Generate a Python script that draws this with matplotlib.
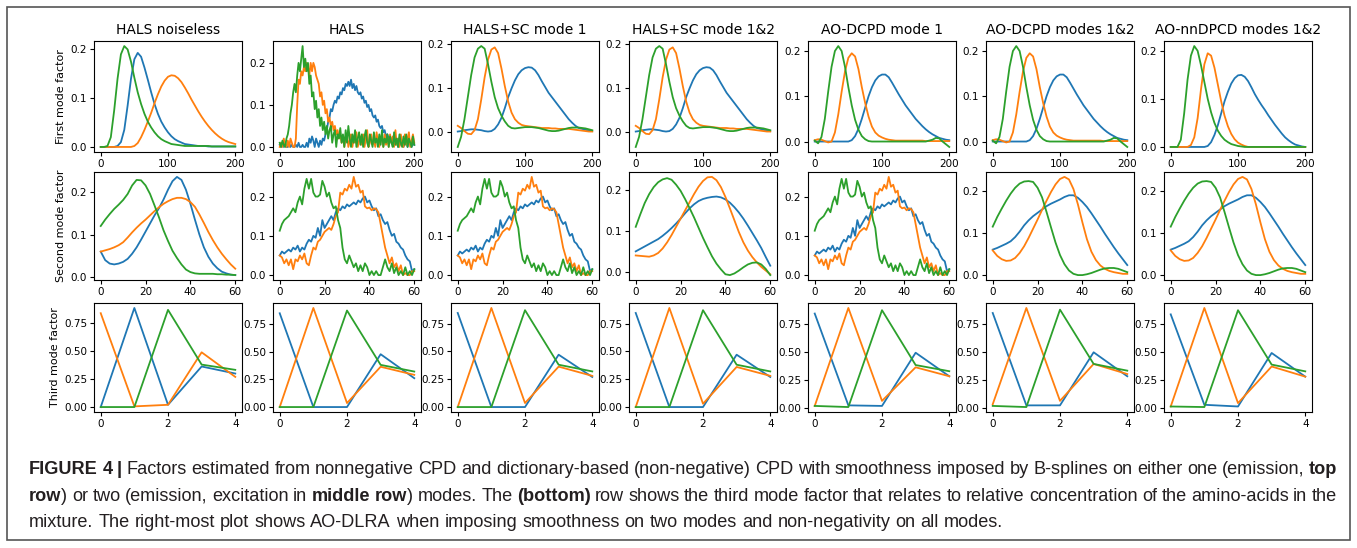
import numpy as np
import matplotlib
matplotlib.use("Agg")
import matplotlib.pyplot as plt
from matplotlib.patches import Rectangle

W, H = 1357, 548

titles = ["HALS noiseless", "HALS", "HALS+SC mode 1", "HALS+SC mode 1&2",
          "AO-DCPD mode 1", "AO-DCPD modes 1&2", "AO-nnDPCD modes 1&2"]
row_labels = ["First mode factor", "Second mode factor", "Third mode factor"]

# x grids of each row
x_emis = np.arange(0, 201, 5)
x_emis_noisy = np.arange(0, 201, 2)
x_exc = np.arange(0, 61, 2)
x_exc_noisy = np.arange(0, 61, 1)
x_conc = [0, 1, 2, 3, 4]

# ---- first mode (emission) ----
r1_noiseless_blue = [0, 0, 0, 0, 0, 0.002, 0.01, 0.035, 0.085, 0.14,
                     0.18, 0.193, 0.185, 0.163, 0.138, 0.112, 0.088, 0.068, 0.052, 0.04,
                     0.03, 0.022, 0.016, 0.012, 0.009, 0.006, 0.005, 0.004, 0.003, 0.002,
                     0.002, 0.002, 0.001, 0.001, 0.001, 0.001, 0.001, 0.001, 0.001, 0.001,
                     0.001]
r1_noiseless_orange = [0, 0, 0, 0, 0, 0, 0, 0, 0, 0,
                       0.002, 0.008, 0.02, 0.035, 0.052, 0.07, 0.09, 0.108, 0.124, 0.136,
                       0.144, 0.147, 0.146, 0.141, 0.133, 0.122, 0.11, 0.097, 0.085, 0.073,
                       0.062, 0.052, 0.043, 0.035, 0.028, 0.022, 0.017, 0.013, 0.01, 0.008,
                       0.006]
r1_noiseless_green = [0, 0, 0.002, 0.02, 0.075, 0.14, 0.19, 0.207, 0.2, 0.175,
                      0.142, 0.112, 0.088, 0.068, 0.052, 0.04, 0.03, 0.022, 0.016, 0.012,
                      0.009, 0.006, 0.005, 0.004, 0.003, 0.002, 0.002, 0.002, 0.002, 0.002,
                      0.002, 0.002, 0.002, 0.001, 0.001, 0.001, 0.001, 0.001, 0.001, 0.001,
                      0.001]

r1_hals_blue = [0.005, 0.0, 0.01, 0.0, 0.005, 0.0, 0.0, 0.01, 0.0, 0.005, 0.0,
                0.0, 0.005, 0.0, 0.01, 0.0, 0.0, 0.005, 0.0, 0.0, 0.01,
                0.0, 0.02, 0.01, 0.025, 0.015, 0.0, 0.02, 0.01, 0.0, 0.015,
                0.005, 0.02, 0.015, 0.03, 0.04, 0.06, 0.07, 0.09, 0.085, 0.1,
                0.11, 0.105, 0.12, 0.115, 0.13, 0.125, 0.14, 0.135, 0.15, 0.145,
                0.155, 0.145, 0.16, 0.14, 0.15, 0.135, 0.145, 0.13, 0.125, 0.13,
                0.115, 0.12, 0.105, 0.11, 0.095, 0.1, 0.085, 0.09, 0.075, 0.07,
                0.075, 0.06, 0.065, 0.05, 0.045, 0.05, 0.035, 0.04, 0.025, 0.03,
                0.02, 0.025, 0.01, 0.02, 0.005, 0.015, 0.01, 0.0, 0.02, 0.005,
                0.015, 0.0, 0.01, 0.02, 0.0, 0.015, 0.005, 0.0, 0.01, 0.005]
r1_hals_orange = [0.0, 0.01, 0.0, 0.02, 0.005, 0.0, 0.015, 0.0, 0.02, 0.01, 0.0,
                  0.0, 0.02, 0.1, 0.16, 0.15, 0.18, 0.17, 0.19, 0.18, 0.2,
                  0.19, 0.17, 0.2, 0.18, 0.2, 0.19, 0.17, 0.16, 0.15, 0.12,
                  0.13, 0.1, 0.11, 0.08, 0.09, 0.06, 0.07, 0.05, 0.06, 0.04,
                  0.05, 0.03, 0.04, 0.02, 0.03, 0.01, 0.025, 0.0, 0.02, 0.03,
                  0.0, 0.015, 0.03, 0.0, 0.02, 0.01, 0.035, 0.0, 0.015, 0.025,
                  0.005, 0.03, 0.0, 0.02, 0.04, 0.0, 0.01, 0.03, 0.005, 0.02,
                  0.0, 0.035, 0.01, 0.0, 0.025, 0.015, 0.0, 0.03, 0.005, 0.02,
                  0.0, 0.03, 0.01, 0.025, 0.0, 0.04, 0.005, 0.02, 0.0, 0.03,
                  0.01, 0.0, 0.03, 0.005, 0.02, 0.035, 0.0, 0.015, 0.03, 0.01]
r1_hals_green = [0.01, 0.0, 0.015, 0.005, 0.0, 0.02, 0.03, 0.05, 0.08, 0.1, 0.13,
                 0.15, 0.13, 0.17, 0.2, 0.18, 0.21, 0.24, 0.19, 0.21, 0.18,
                 0.2, 0.15, 0.17, 0.12, 0.13, 0.09, 0.11, 0.07, 0.09, 0.05,
                 0.07, 0.04, 0.06, 0.03, 0.05, 0.02, 0.04, 0.05, 0.01, 0.03,
                 0.04, 0.0, 0.03, 0.02, 0.045, 0.01, 0.03, 0.0, 0.04, 0.01,
                 0.05, 0.02, 0.0, 0.03, 0.01, 0.04, 0.0, 0.02, 0.035, 0.005,
                 0.03, 0.0, 0.025, 0.04, 0.01, 0.0, 0.03, 0.015, 0.0, 0.035,
                 0.01, 0.02, 0.0, 0.03, 0.005, 0.04, 0.0, 0.02, 0.01, 0.03,
                 0.0, 0.025, 0.01, 0.0, 0.035, 0.005, 0.02, 0.0, 0.03, 0.01,
                 0.0, 0.025, 0.005, 0.03, 0.0, 0.02, 0.01, 0.0, 0.025, 0.005]

r1_sc_blue = [0.002, 0.003, 0.005, 0.006, 0.007, 0.007, 0.006, 0.005, 0.003, 0.002,
              0.003, 0.008, 0.018, 0.033, 0.055, 0.08, 0.1, 0.118, 0.132, 0.141,
              0.146, 0.148, 0.147, 0.141, 0.13, 0.116, 0.103, 0.09, 0.08, 0.07,
              0.06, 0.05, 0.04, 0.03, 0.022, 0.015, 0.01, 0.008, 0.006, 0.004,
              0.003]
r1_sc_orange = [0.015, 0.01, 0.003, -0.003, -0.004, 0.005, 0.03, 0.075, 0.125, 0.165,
                0.188, 0.193, 0.18, 0.145, 0.105, 0.07, 0.045, 0.03, 0.022, 0.017,
                0.015, 0.014, 0.013, 0.012, 0.011, 0.01, 0.01, 0.01, 0.009, 0.009,
                0.008, 0.008, 0.008, 0.008, 0.007, 0.006, 0.005, 0.004, 0.003, 0.002,
                0.002]
r1_sc_green = [-0.033, -0.01, 0.03, 0.08, 0.13, 0.17, 0.19, 0.196, 0.19, 0.155,
               0.115, 0.08, 0.055, 0.038, 0.025, 0.015, 0.01, 0.009, 0.01, 0.011,
               0.012, 0.012, 0.012, 0.011, 0.01, 0.008, 0.006, 0.004, 0.003, 0.003,
               0.004, 0.006, 0.008, 0.01, 0.011, 0.011, 0.011, 0.01, 0.009, 0.007,
               0.005]

r1_dcpd_blue = [0, 0, 0, 0, 0, 0, 0, 0, 0, 0,
                0, 0.003, 0.012, 0.028, 0.05, 0.075, 0.1, 0.12, 0.135, 0.144,
                0.148, 0.148, 0.142, 0.13, 0.117, 0.104, 0.092, 0.08, 0.07, 0.06,
                0.05, 0.042, 0.034, 0.027, 0.021, 0.016, 0.012, 0.008, 0.006, 0.004,
                0.003]
r1_dcpd_orange = [0.003, 0.005, 0.004, 0.001, -0.002, 0.0, 0.02, 0.06, 0.11, 0.155,
                  0.185, 0.195, 0.188, 0.16, 0.12, 0.085, 0.055, 0.033, 0.02, 0.013,
                  0.009, 0.006, 0.004, 0.003, 0.002, 0.002, 0.002, 0.002, 0.002, 0.002,
                  0.002, 0.002, 0.002, 0.001, 0.001, 0.001, 0.001, 0.001, 0.001, 0.001,
                  0.001]
r1_dcpd_green = [0.002, -0.004, 0.01, 0.05, 0.11, 0.165, 0.2, 0.211, 0.2, 0.165,
                 0.12, 0.08, 0.048, 0.026, 0.012, 0.005, 0.001, 0, 0, 0,
                 0, 0, 0, 0, 0, 0, 0, 0, 0, 0,
                 0, 0, 0, 0, 0.002, 0.004, 0.008, 0.007, 0.0, -0.006,
                 -0.012]

r1_nn_blue = [0, 0, 0, 0, 0, 0, 0, 0, 0, 0,
              0, 0.002, 0.01, 0.025, 0.045, 0.07, 0.095, 0.115, 0.132, 0.143,
              0.149, 0.15, 0.146, 0.137, 0.124, 0.11, 0.098, 0.087, 0.077, 0.066,
              0.056, 0.046, 0.037, 0.028, 0.02, 0.014, 0.009, 0.005, 0.003, 0.001,
              0.0]
r1_nn_orange = [0, 0, 0, 0, 0, 0, 0.004, 0.02, 0.06, 0.12,
                0.172, 0.195, 0.19, 0.165, 0.13, 0.095, 0.065, 0.043, 0.027, 0.016,
                0.009, 0.005, 0.002, 0, 0, 0, 0, 0, 0, 0,
                0, 0, 0, 0, 0, 0, 0, 0, 0, 0,
                0]
r1_nn_green = [0, 0, 0, 0.015, 0.07, 0.14, 0.19, 0.21, 0.2, 0.17,
               0.135, 0.1, 0.072, 0.05, 0.034, 0.023, 0.015, 0.01, 0.006, 0.004,
               0.002, 0.001, 0, 0, 0, 0, 0, 0, 0, 0,
               0, 0, 0, 0, 0, 0, 0, 0, 0, 0,
               0]

# ---- second mode (excitation) ----
r2_noiseless_blue = [0.06, 0.04, 0.032, 0.03, 0.032, 0.036, 0.043, 0.055, 0.07, 0.088,
                     0.107, 0.126, 0.145, 0.162, 0.182, 0.205, 0.225, 0.235, 0.228, 0.205,
                     0.172, 0.135, 0.1, 0.07, 0.048, 0.032, 0.021, 0.013, 0.009, 0.006,
                     0.005]
r2_noiseless_orange = [0.06, 0.063, 0.066, 0.07, 0.075, 0.082, 0.093, 0.105, 0.116, 0.126,
                       0.135, 0.145, 0.155, 0.164, 0.172, 0.178, 0.183, 0.186, 0.186, 0.183,
                       0.176, 0.165, 0.147, 0.127, 0.106, 0.087, 0.07, 0.055, 0.042, 0.03,
                       0.02]
r2_noiseless_green = [0.12, 0.135, 0.148, 0.16, 0.17, 0.181, 0.195, 0.215, 0.228, 0.227,
                      0.215, 0.195, 0.168, 0.14, 0.11, 0.085, 0.062, 0.045, 0.03, 0.018,
                      0.012, 0.009, 0.008, 0.008, 0.008, 0.008, 0.007, 0.007, 0.006, 0.006,
                      0.005]

r2_hals_blue = [0.05, 0.06, 0.055, 0.06, 0.065, 0.06, 0.07, 0.065, 0.075, 0.06,
                0.07, 0.065, 0.08, 0.09, 0.085, 0.1, 0.095, 0.12, 0.1, 0.14,
                0.12, 0.13, 0.14, 0.15, 0.14, 0.16, 0.17, 0.165, 0.175, 0.17,
                0.18, 0.175, 0.18, 0.185, 0.18, 0.19, 0.185, 0.195, 0.2, 0.185,
                0.19, 0.175, 0.165, 0.17, 0.15, 0.155, 0.14, 0.13, 0.135, 0.115,
                0.1, 0.105, 0.085, 0.08, 0.07, 0.065, 0.05, 0.04, 0.035, 0.01,
                0.015]
r2_hals_orange = [0.05, 0.045, 0.03, 0.04, 0.025, 0.04, 0.015, 0.04, 0.035, 0.05,
                  0.04, 0.055, 0.03, 0.025, 0.05, 0.07, 0.065, 0.085, 0.09, 0.1,
                  0.11, 0.115, 0.12, 0.115, 0.13, 0.15, 0.16, 0.21, 0.205, 0.22,
                  0.215, 0.23, 0.22, 0.25, 0.225, 0.23, 0.21, 0.215, 0.175, 0.17,
                  0.172, 0.165, 0.17, 0.168, 0.16, 0.13, 0.1, 0.07, 0.05, 0.03,
                  0.045, 0.02, 0.03, 0.01, 0.025, 0.0, 0.005, 0.0, 0.0, 0.01,
                  0.01]
r2_hals_green = [0.113, 0.13, 0.14, 0.145, 0.15, 0.16, 0.17, 0.16, 0.185, 0.2,
                 0.18, 0.22, 0.245, 0.22, 0.245, 0.21, 0.2, 0.2, 0.205, 0.24,
                 0.225, 0.2, 0.21, 0.185, 0.17, 0.175, 0.14, 0.12, 0.07, 0.04,
                 0.03, 0.05, 0.035, 0.02, 0.03, 0.01, 0.025, 0.01, 0.03, 0.02,
                 0.0, 0.01, 0.0, 0.01, 0.0, 0.0, 0.02, 0.04, 0.02, 0.01,
                 0.03, 0.005, 0.02, 0.0, 0.01, 0.0, 0.02, 0.0, 0.01, 0.0,
                 0.015]

r2_sc_blue = [0.05, 0.056, 0.062, 0.068, 0.074, 0.08, 0.088, 0.097, 0.107, 0.118,
              0.13, 0.143, 0.155, 0.165, 0.173, 0.178, 0.181, 0.183, 0.184, 0.182,
              0.177, 0.169, 0.158, 0.145, 0.13, 0.113, 0.095, 0.077, 0.058, 0.036,
              0.015]
r2_sc_orange = [0.04, 0.039, 0.038, 0.037, 0.04, 0.046, 0.057, 0.072, 0.09, 0.11,
                0.13, 0.15, 0.17, 0.19, 0.208, 0.222, 0.231, 0.232, 0.224, 0.207,
                0.183, 0.155, 0.126, 0.097, 0.072, 0.052, 0.036, 0.023, 0.012, 0.003,
                -0.006]
r2_sc_green = [0.11, 0.14, 0.168, 0.19, 0.207, 0.219, 0.226, 0.229, 0.225, 0.213,
               0.198, 0.178, 0.156, 0.133, 0.108, 0.083, 0.06, 0.038, 0.02, 0.006,
               -0.006, -0.008, -0.004, 0.003, 0.011, 0.018, 0.022, 0.023, 0.018, 0.007,
               -0.008]

r2_dcpd_blue = [0.06, 0.064, 0.069, 0.074, 0.08, 0.09, 0.103, 0.118, 0.13, 0.14,
                0.148, 0.156, 0.164, 0.17, 0.175, 0.18, 0.186, 0.19, 0.19, 0.184,
                0.174, 0.162, 0.147, 0.131, 0.115, 0.098, 0.082, 0.066, 0.051, 0.037,
                0.023]
r2_dcpd_orange = [0.058, 0.045, 0.037, 0.033, 0.034, 0.04, 0.052, 0.068, 0.088, 0.11,
                  0.132, 0.155, 0.177, 0.198, 0.216, 0.229, 0.234, 0.228, 0.205, 0.168,
                  0.125, 0.085, 0.055, 0.035, 0.022, 0.014, 0.009, 0.006, 0.004, 0.002,
                  0.002]
r2_dcpd_green = [0.115, 0.138, 0.158, 0.177, 0.194, 0.208, 0.218, 0.223, 0.224, 0.222,
                 0.208, 0.185, 0.15, 0.113, 0.077, 0.047, 0.025, 0.01, 0.002, -0.001,
                 -0.001, 0.001, 0.004, 0.008, 0.012, 0.015, 0.016, 0.016, 0.014, 0.01,
                 0.006]

# ---- third mode (concentrations) ----
r3_blue = [[0.0, 0.887, 0.02, 0.363, 0.30],
           [0.845, 0.0, 0.0, 0.476, 0.26],
           [0.845, 0.0, 0.0, 0.47, 0.27],
           [0.845, 0.0, 0.0, 0.47, 0.27],
           [0.84, 0.02, 0.015, 0.49, 0.28],
           [0.845, 0.02, 0.02, 0.494, 0.28],
           [0.833, 0.03, 0.015, 0.49, 0.28]]
r3_orange = [[0.84, 0.006, 0.02, 0.49, 0.27],
             [0.0, 0.893, 0.036, 0.363, 0.29],
             [0.0, 0.89, 0.036, 0.363, 0.28],
             [0.0, 0.89, 0.03, 0.36, 0.28],
             [0.015, 0.89, 0.06, 0.36, 0.28],
             [0.03, 0.89, 0.06, 0.39, 0.30],
             [0.015, 0.89, 0.045, 0.37, 0.28]]
r3_green = [[0.0, 0.0, 0.87, 0.38, 0.333],
            [0.0, 0.0, 0.87, 0.38, 0.32],
            [0.0, 0.0, 0.87, 0.38, 0.32],
            [0.0, 0.0, 0.87, 0.38, 0.32],
            [0.015, 0.005, 0.87, 0.38, 0.325],
            [0.015, 0.005, 0.875, 0.39, 0.33],
            [0.015, 0.01, 0.87, 0.387, 0.327]]

# panel table: (x, blue, orange, green)
row1 = [(x_emis, r1_noiseless_blue, r1_noiseless_orange, r1_noiseless_green),
        (x_emis_noisy, r1_hals_blue, r1_hals_orange, r1_hals_green),
        (x_emis, r1_sc_blue, r1_sc_orange, r1_sc_green),
        (x_emis, r1_sc_blue, r1_sc_orange, r1_sc_green),
        (x_emis, r1_dcpd_blue, r1_dcpd_orange, r1_dcpd_green),
        (x_emis, r1_dcpd_blue, r1_dcpd_orange, r1_dcpd_green),
        (x_emis, r1_nn_blue, r1_nn_orange, r1_nn_green)]
row2 = [(x_exc, r2_noiseless_blue, r2_noiseless_orange, r2_noiseless_green),
        (x_exc_noisy, r2_hals_blue, r2_hals_orange, r2_hals_green),
        (x_exc_noisy, r2_hals_blue, r2_hals_orange, r2_hals_green),
        (x_exc, r2_sc_blue, r2_sc_orange, r2_sc_green),
        (x_exc_noisy, r2_hals_blue, r2_hals_orange, r2_hals_green),
        (x_exc, r2_dcpd_blue, r2_dcpd_orange, r2_dcpd_green),
        (x_exc, r2_dcpd_blue, r2_dcpd_orange, r2_dcpd_green)]
row3 = [(x_conc, b, o, g) for b, o, g in zip(r3_blue, r3_orange, r3_green)]

caption = [
    [("FIGURE 4 |", True),
     (" Factors estimated from nonnegative CPD and dictionary-based (non-negative) CPD with "
      "smoothness imposed by B-splines on either one (emission, ", False),
     ("top", True)],
    [("row", True), (") or two (emission, excitation in ", False), ("middle row", True),
     (") modes. The ", False), ("(bottom)", True),
     (" row shows the third mode factor that relates to relative concentration of the "
      "amino-acids in the", False)],
    [("mixture. The right-most plot shows AO-DLRA when imposing smoothness on two modes "
      "and non-negativity on all modes.", False)],
]

# layout in pixels
col_left = [94, 273, 451, 629, 808, 986, 1164]
col_w = 148
row_top = [41, 172, 303]
row_h = [111, 108, 109]
xticks = [[0, 100, 200], [0, 20, 40, 60], [0, 2, 4]]
yticks = [[0, 0.1, 0.2], [0, 0.1, 0.2], [0, 0.25, 0.5, 0.75]]
colors = ["#1f77b4", "#ff7f0e", "#2ca02c"]

fig = plt.figure(figsize=(W / 100, H / 100), dpi=100)

for r, panels in enumerate([row1, row2, row3]):
    for c, (x, b, o, g) in enumerate(panels):
        ax = fig.add_axes([col_left[c] / W, 1 - (row_top[r] + row_h[r]) / H,
                           col_w / W, row_h[r] / H])
        for y, col in zip([b, o, g], colors):
            ax.plot(x, y, color=col, lw=1.3)
        ax.set_xticks(xticks[r])
        ax.set_yticks(yticks[r])
        ax.tick_params(labelsize=7.5, length=3, width=0.8, pad=2)
        for s in ax.spines.values():
            s.set_linewidth(0.8)
        if r == 0:
            ax.set_title(titles[c], fontsize=10, pad=5)
        if c == 0:
            ax.set_ylabel(row_labels[r], fontsize=8, labelpad=3)

# outer frame
fig.patches.append(Rectangle((7 / W, 1 - 540 / H), (1350 - 7) / W, (540 - 7) / H,
                             transform=fig.transFigure, fill=False,
                             edgecolor="#555555", lw=1.2))

# justified caption
renderer = fig.canvas.get_renderer()
cap_font = dict(fontsize=13.1, family="Liberation Sans", color="#231f20")
x_start, x_end = 29, 1337
baselines = [474.5, 501, 527]


def text_width(s, bold):
    t = fig.text(0, 0, s, fontweight="bold" if bold else "normal", **cap_font)
    w = t.get_window_extent(renderer).width
    t.remove()
    return w


for i, runs in enumerate(caption):
    words = [[]]
    for txt, bold in runs:
        parts = txt.split(" ")
        for k, p in enumerate(parts):
            if k > 0:
                words.append([])
            if p:
                words[-1].append((p, bold))
    words = [w for w in words if w]
    widths = [[text_width(p, b) for p, b in w] for w in words]
    total = sum(sum(ws) for ws in widths)
    if i < len(caption) - 1:
        gap = (x_end - x_start - total) / (len(words) - 1)
    else:
        gap = text_width("a b", False) - text_width("ab", False)
    xpos = x_start
    for w, ws in zip(words, widths):
        for (p, b), wd in zip(w, ws):
            fig.text(xpos / W, 1 - baselines[i] / H, p, va="baseline", ha="left",
                     fontweight="bold" if b else "normal", **cap_font)
            xpos += wd
        xpos += gap

fig.savefig("out.png", dpi=100)
